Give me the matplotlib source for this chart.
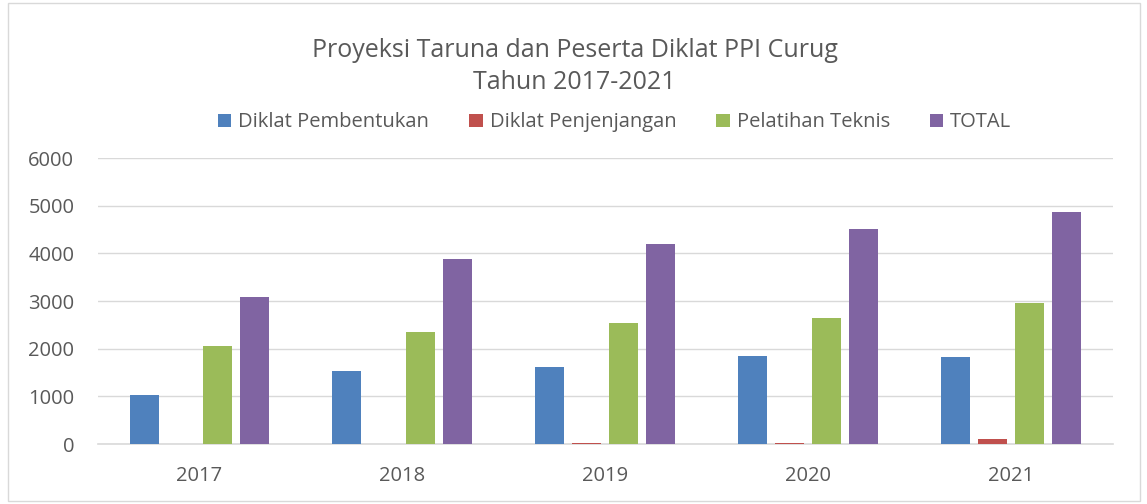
import numpy as np
import matplotlib
matplotlib.use("Agg")
from matplotlib import pyplot as plt
from matplotlib.patches import Rectangle

years = ['2017', '2018', '2019', '2020', '2021']
pembentukan = [1030, 1530, 1615, 1845, 1825]
penjenjangan = [0, 0, 20, 20, 100]
pelatihan = [2055, 2350, 2540, 2645, 2955]
total = [3085, 3880, 4195, 4510, 4865]

series = [('Diklat Pembentukan', pembentukan, '#4F81BD'),
          ('Diklat Penjenjangan', penjenjangan, '#C0504D'),
          ('Pelatihan Teknis', pelatihan, '#9BBB59'),
          ('TOTAL', total, '#8064A2')]

plt.rcParams['font.family'] = ['Open Sans', 'DejaVu Sans']

fig = plt.figure(figsize=(11.47, 5.04), dpi=100)
ax = fig.add_axes([0.0854, 0.119, 0.8846, 0.5675])

x = np.arange(len(years))
step = 0.182
width = 0.143
for i, (name, vals, col) in enumerate(series):
    ax.bar(x + (i - 1.5) * step, vals, width, color=col, label=name, zorder=3)

ax.set_xlim(-0.5, len(years) - 0.5)
ax.set_ylim(0, 6000)
ax.set_yticks(range(0, 6001, 1000))
ax.set_xticks(x)
ax.set_xticklabels(years)
ax.tick_params(axis='both', length=0, labelsize=14.5, labelcolor='#595959')
ax.tick_params(axis='x', pad=16)
ax.tick_params(axis='y', pad=17)
ax.grid(axis='y', color='#d9d9d9', linewidth=1, zorder=0)
for s in ['top', 'right', 'left']:
    ax.spines[s].set_visible(False)
ax.spines['bottom'].set_color('#d9d9d9')
ax.spines['bottom'].set_linewidth(1.2)

fig.text(0.501, 0.868, 'Proyeksi Taruna dan Peserta Diklat PPI Curug\nTahun 2017-2021',
         ha='center', va='center', fontsize=18, color='#595959', linespacing=1.35)

ax.legend(loc='center', bbox_to_anchor=(0.536, 0.757), bbox_transform=fig.transFigure,
          ncol=4, frameon=False, fontsize=14.5, labelcolor='#595959',
          handlelength=0.65, handleheight=0.65, handletextpad=0.35, columnspacing=2.0)

fig.patches.append(Rectangle((0.007, 0.006), 0.987, 0.988, transform=fig.transFigure,
                             fill=False, edgecolor='#d9d9d9', linewidth=1))

fig.savefig('out.png', dpi=100)
